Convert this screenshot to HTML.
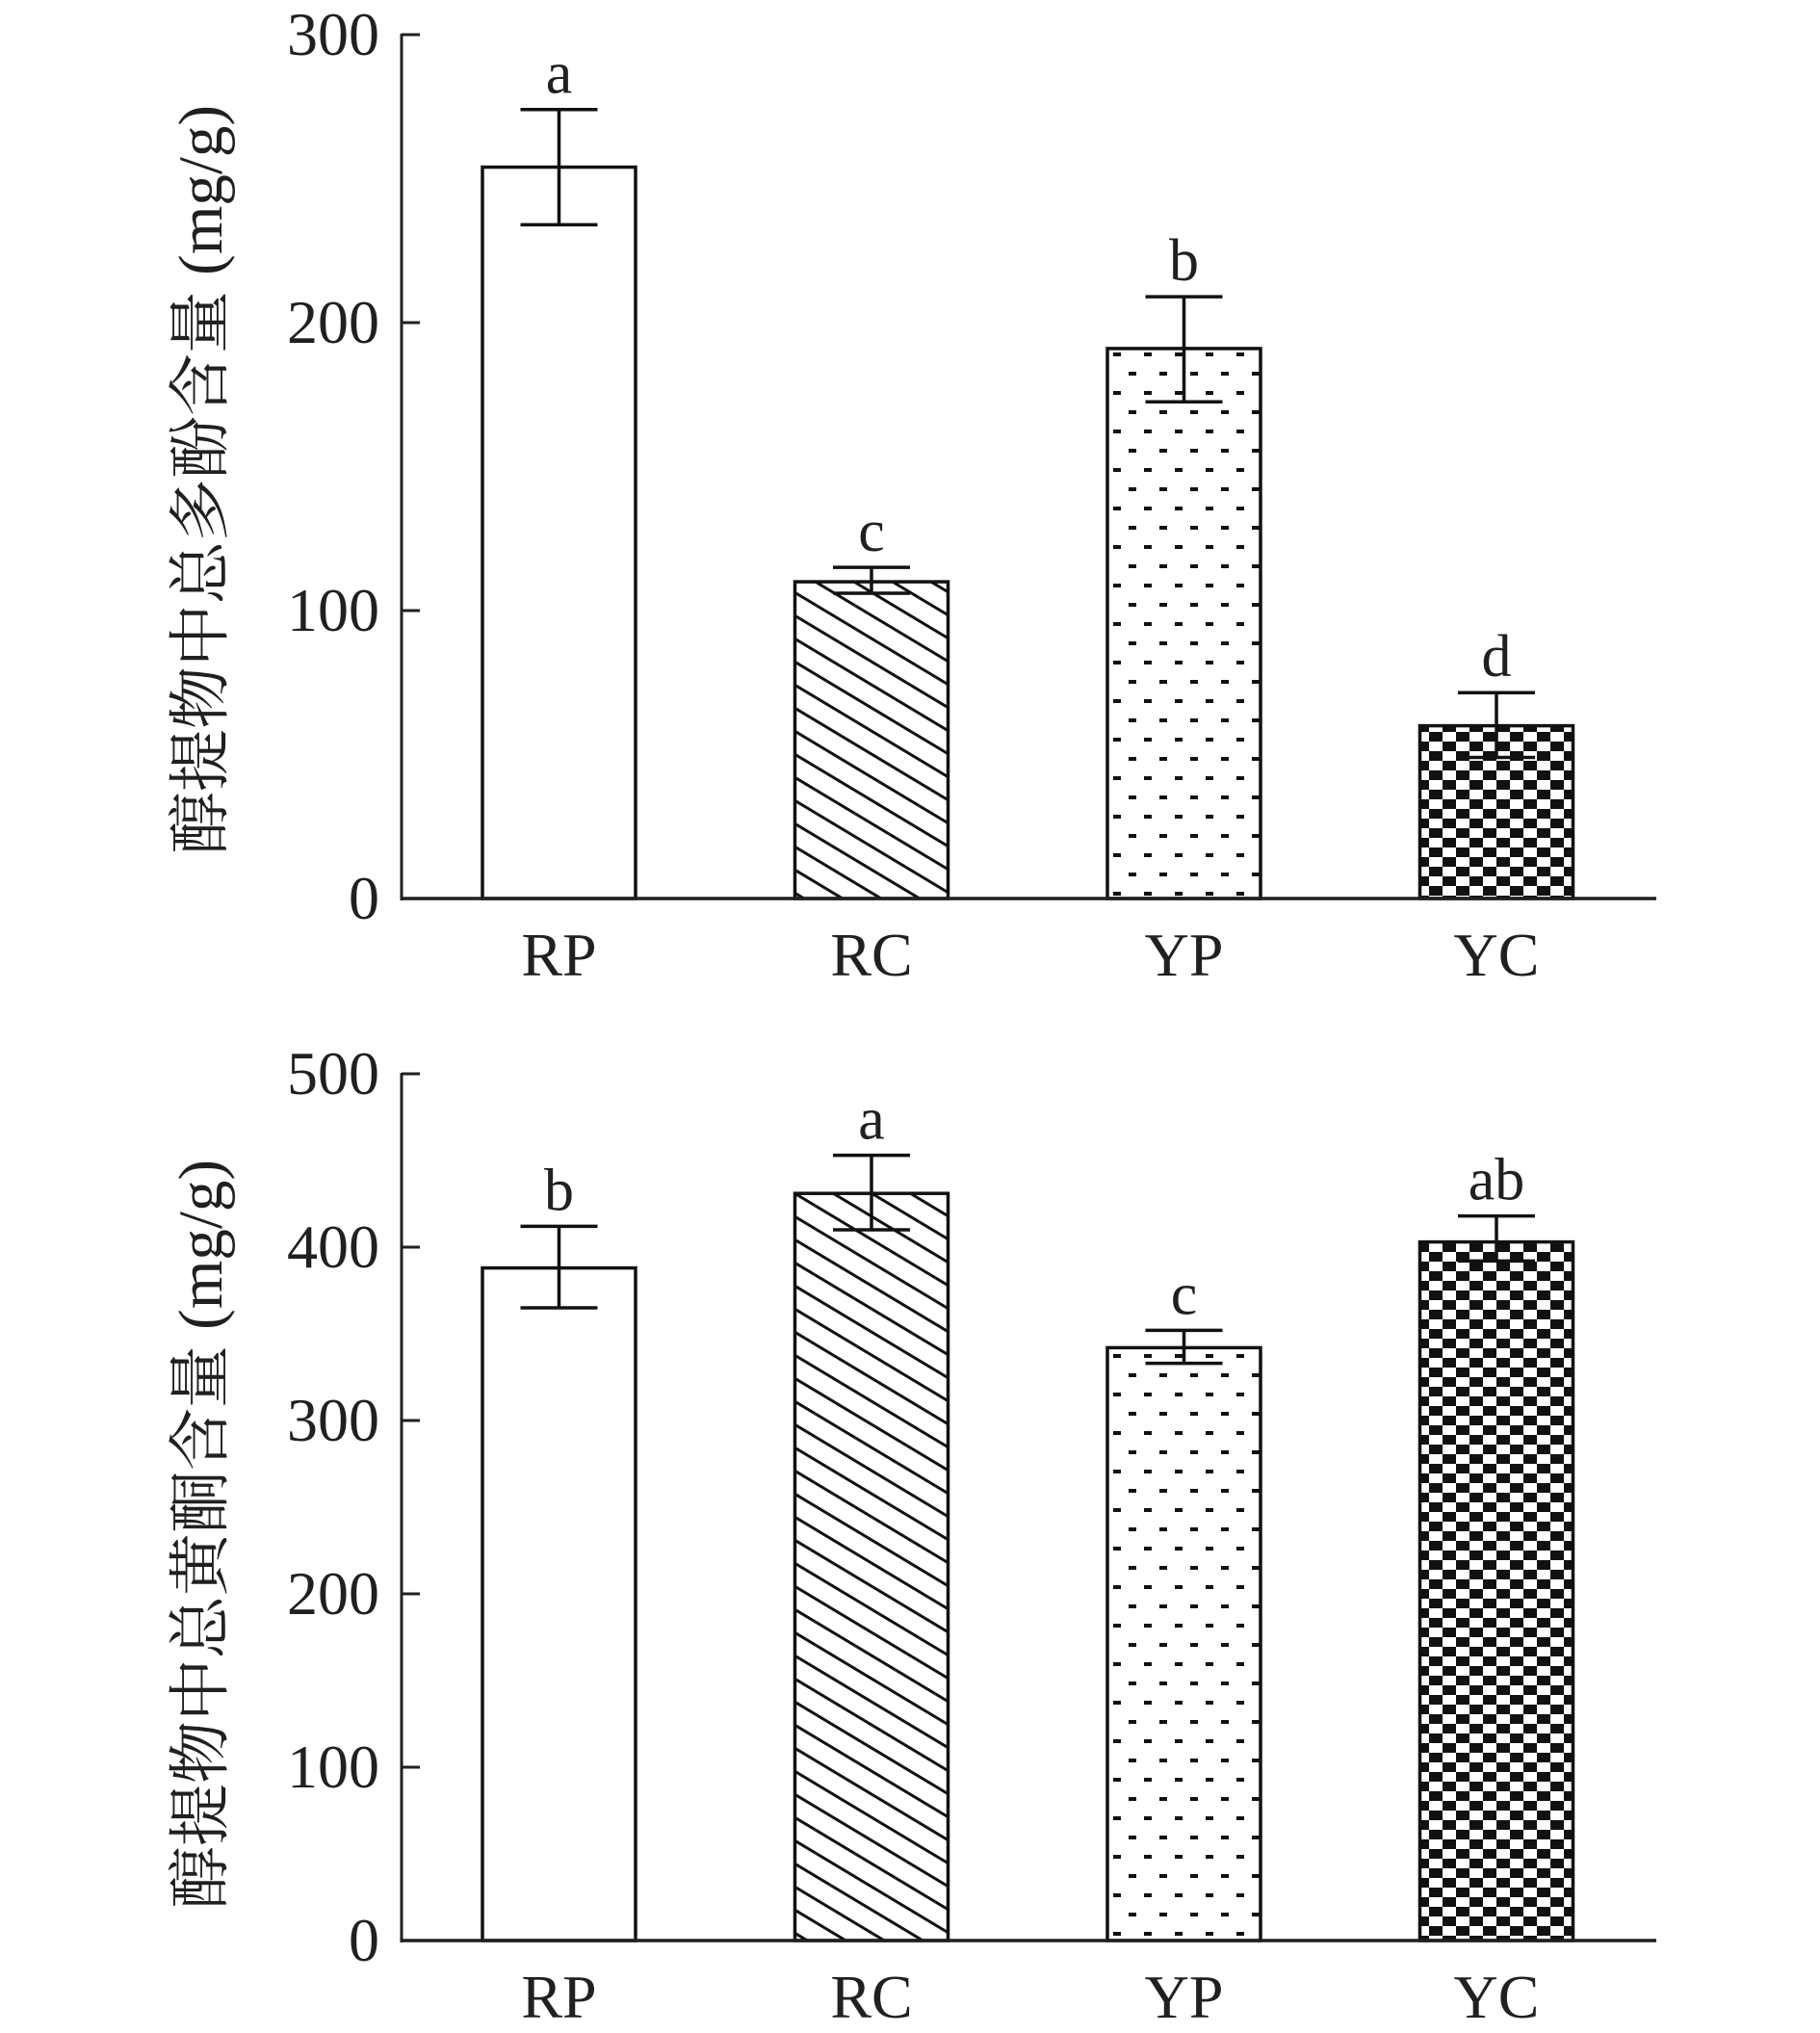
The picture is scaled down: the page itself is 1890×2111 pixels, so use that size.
<!DOCTYPE html>
<html><head><meta charset="utf-8"><style>
body{margin:0;background:#fff}
svg{display:block}
text{font-family:"Liberation Serif","Noto Serif CJK SC",serif;fill:#231f20}
</style></head><body>
<svg id="c" width="1890" height="2111" viewBox="0 0 1890 2111" xmlns="http://www.w3.org/2000/svg">
<defs>
<pattern id="hatch" patternUnits="userSpaceOnUse" width="40" height="24">
<path d="M-10,-6 L50,30 M-10,18 L50,54 M-10,-30 L50,6" stroke="#111" stroke-width="3"/>
</pattern>
<pattern id="dots" patternUnits="userSpaceOnUse" width="32" height="40">
<rect x="4" y="6" width="8" height="4" fill="#111"/>
<rect x="20" y="26" width="8" height="4" fill="#111"/>
</pattern>
<pattern id="check" patternUnits="userSpaceOnUse" width="28" height="20">
<rect width="28" height="20" fill="#fff"/>
<rect x="0" y="0" width="14" height="10" fill="#111"/>
<rect x="14" y="10" width="14" height="10" fill="#111"/>
</pattern>
</defs>
</svg>
<script>
const categories = ["RP","RC","YP","YC"];
const fills = ["#fff","url(#hatch)","url(#dots)","url(#check)"];
const topValues = [254,110,191,60];
const topErrHigh = [274,115,209,71.5];
const topErrLow = [234,106,172.5,49];
const topLetters = ["a","c","b","d"];
const topTicks = [0,100,200,300];
const botValues = [388,431,342,403];
const botErrHigh = [412,453,352,418];
const botErrLow = [365,410,333,392];
const botLetters = ["b","a","c","ab"];
const botTicks = [0,100,200,300,400,500];

const svg = document.getElementById('c');
const NS = "http://www.w3.org/2000/svg";
function mk(tag, attrs, parent){
  const e = document.createElementNS(NS, tag);
  for (const k in attrs) e.setAttribute(k, attrs[k]);
  (parent||svg).appendChild(e);
  return e;
}
function panel(cfg){
  const g = mk('g', {});
  
  
  const axX = 417, axEnd = 1720;
  const yScale = v => cfg.y0 - v / cfg.max * (cfg.y0 - cfg.yTop);
  const xLeft = i => 501 + i * 324.5;
  const bw = 159;
  const ya = mk('line', {x1:axX, y1:cfg.yTop-1, x2:axX, y2:cfg.y0+2, stroke:'#231f20','stroke-width':3}, g);
  
  
  cfg.ticks.forEach(t => {
    const y = yScale(t);
    const tk = mk('line', {x1:axX, y1:y, x2:axX+19, y2:y, stroke:'#231f20','stroke-width':3}, g);
    
    
    const tl = mk('text', {x:394, y:y+21, 'text-anchor':'end','font-size':64}, g);
    tl.textContent = t;
    
    
  });
  categories.forEach((c,i) => {
    const x = xLeft(i), v = cfg.values[i], y = yScale(v);
    const b = mk('rect', {x:x, y:y, width:bw, height:cfg.y0-y, fill:fills[i], stroke:'#111','stroke-width':3.5}, g);
    
    
    const cx = x + bw/2;
    const yh = yScale(cfg.hi[i]), yl = yScale(cfg.lo[i]);
    const e = mk('path', {d:`M${cx},${yh} V${yl} M${cx-40},${yh} H${cx+40} M${cx-40},${yl} H${cx+40}`, stroke:'#111','stroke-width':3.5, fill:'none'}, g);
    
    
    const lt = mk('text', {x:cx, y:yh-17, 'text-anchor':'middle','font-size':62}, g);
    lt.textContent = cfg.letters[i];
    
    
    const xl = mk('text', {x:cx, y:cfg.y0+80, 'text-anchor':'middle','font-size':64}, g);
    xl.textContent = c;
    
    
  });
  const xa = mk('line', {x1:axX-1, y1:cfg.y0, x2:axEnd, y2:cfg.y0, stroke:'#231f20','stroke-width':3.5}, g);
  
  
  const tt = mk('text', {x:0, y:0, 'text-anchor':'middle','font-size':65, transform:`translate(230,${cfg.titleY}) rotate(-90)`}, g);
  tt.textContent = cfg.title;
  
  
}
panel({name:'polyphenol-chart', yTop:36, y0:933, max:300, ticks:topTicks, values:topValues, hi:topErrHigh, lo:topErrLow, letters:topLetters, title:'醇提物中总多酚含量 (mg/g)', titleY:498});
panel({name:'flavonoid-chart', yTop:1115, y0:2015, max:500, ticks:botTicks, values:botValues, hi:botErrHigh, lo:botErrLow, letters:botLetters, title:'醇提物中总黄酮含量 (mg/g)', titleY:1593});
</script>
</body></html>
